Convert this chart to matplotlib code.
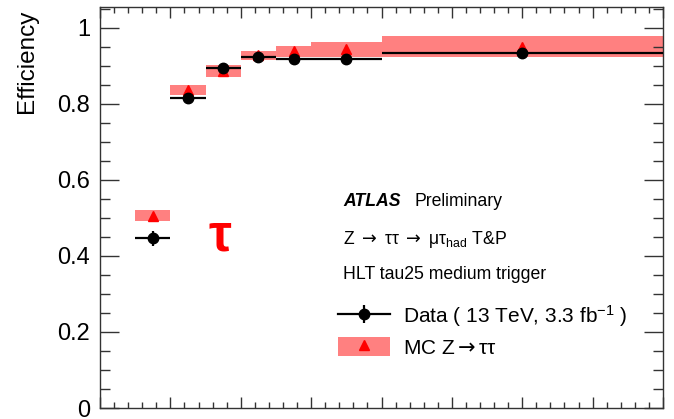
import matplotlib
matplotlib.use("Agg")
import matplotlib.pyplot as plt
import numpy as np
from matplotlib.lines import Line2D
from matplotlib.patches import Patch
from matplotlib.ticker import MultipleLocator

# tau pT bin edges [GeV]
bin_edges = [25, 30, 35, 40, 45, 50, 60, 100]

# measured trigger efficiency in data
data_eff = [0.446, 0.816, 0.895, 0.924, 0.917, 0.917, 0.933]
data_err = [0.020, 0.012, 0.010, 0.008, 0.010, 0.010, 0.012]

# Z->tautau simulation
mc_eff = [0.506, 0.837, 0.886, 0.928, 0.938, 0.944, 0.951]
mc_err = [0.015, 0.013, 0.016, 0.012, 0.015, 0.020, 0.028]

BAND_COLOR = "#ff8080"
ARROW = r"$\mathsf{\rightarrow}$"

plt.rcParams["font.family"] = ["Liberation Sans", "DejaVu Sans"]
plt.rcParams["mathtext.fontset"] = "custom"
plt.rcParams["mathtext.rm"] = "Liberation Sans"
plt.rcParams["mathtext.it"] = "Liberation Sans:italic"
plt.rcParams["mathtext.sf"] = "DejaVu Sans"


def style_axes(ax):
  ax.set_xlim(20, 100)
  ax.set_ylim(0, 1.055)
  ax.xaxis.set_major_locator(MultipleLocator(10))
  ax.xaxis.set_minor_locator(MultipleLocator(2))
  ax.yaxis.set_major_locator(MultipleLocator(0.2))
  ax.yaxis.set_minor_locator(MultipleLocator(0.05))
  ax.yaxis.set_major_formatter(plt.FuncFormatter(lambda v, _: "%g" % round(v, 2)))

  ax.tick_params(axis="both", which="both", direction="in", top=True, right=True,
                 color="#333333", width=1.0)
  ax.tick_params(axis="y", which="major", length=14, labelsize=17, pad=7)
  ax.tick_params(axis="y", which="minor", length=7)
  ax.tick_params(axis="x", which="major", length=8, labelbottom=False)
  ax.tick_params(axis="x", which="minor", length=4)
  for s in ax.spines.values():
    s.set_color("#333333")
    s.set_linewidth(1.0)

  ax.set_ylabel("Efficiency", fontsize=17.5, loc="top")
  ax.yaxis.set_label_coords(-0.110, 0.993)


def main():
  edges = np.array(bin_edges, dtype=float)
  centers = 0.5 * (edges[1:] + edges[:-1])
  widths = edges[1:] - edges[:-1]
  mc = np.array(mc_eff)
  mce = np.array(mc_err)

  fig = plt.figure(figsize=(6.74, 4.19), dpi=100)
  ax = fig.add_axes([100 / 674, 11 / 419, 563 / 674, 401 / 419])

  # simulation band with triangles at the bin centres
  ax.bar(centers, 2 * mce, bottom=mc - mce, width=widths, color=BAND_COLOR,
         edgecolor="none", zorder=1)
  ax.plot(centers, mc, "^", color="red", ms=7, zorder=2)

  # data points with bin-width horizontal bars
  ax.errorbar(centers, data_eff, xerr=widths / 2, yerr=data_err, fmt="o",
              color="black", ms=7.5, lw=1.6, capsize=0, zorder=3)

  style_axes(ax)

  ax.text(37.1, 0.45, "τ", color="red", fontsize=37, fontweight="bold",
          ha="center", va="center")

  ax.text(0.432, 0.514, "ATLAS", transform=ax.transAxes, fontsize=12.7,
          fontweight="bold", style="italic", va="center")
  ax.text(0.559, 0.514, "Preliminary", transform=ax.transAxes, fontsize=12.7,
          va="center")
  ax.text(0.432, 0.419, "Z " + ARROW + " ττ " + ARROW + r" μτ$_{\mathrm{had}}$ T&P",
          transform=ax.transAxes, fontsize=12.7, va="center")
  ax.text(0.432, 0.332, "HLT tau25 medium trigger", transform=ax.transAxes,
          fontsize=12.7, va="center")

  data_handle = (Line2D([], [], color="black", lw=1.6, marker="o", ms=7.5),
                 Line2D([], [], color="black", ls="none", marker="|", ms=13, mew=1.6))
  mc_handle = (Patch(facecolor=BAND_COLOR, edgecolor="none"),
               Line2D([], [], marker="^", ls="none", color="red", ms=7))
  ax.legend([data_handle, mc_handle],
            [r"Data ( 13 TeV, 3.3 fb$^{-1}$ )", "MC Z" + ARROW + "ττ"],
            loc="upper left", bbox_to_anchor=(0.4227, 0.262), frameon=False,
            fontsize=15, handlelength=2.5, handleheight=1.05, handletextpad=0.6,
            labelspacing=0.38, borderpad=0, borderaxespad=0)

  fig.savefig("out.png", dpi=100)


if __name__ == "__main__":
  main()
